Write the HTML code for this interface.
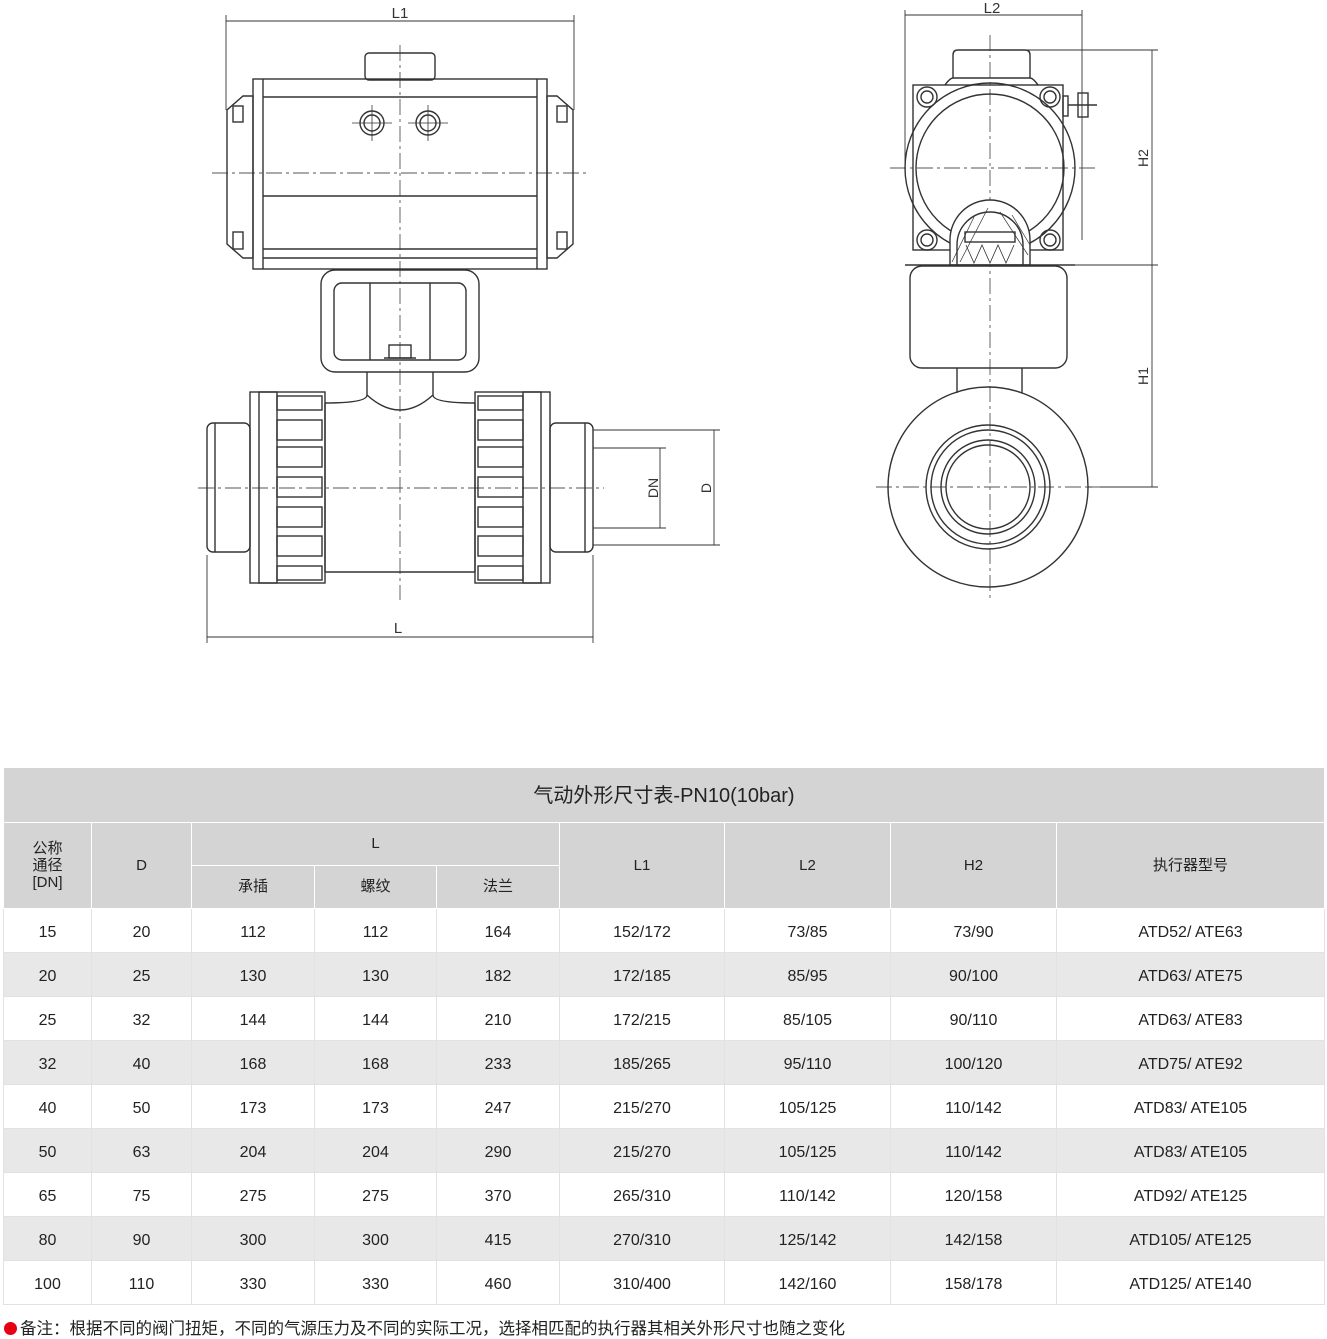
<!DOCTYPE html>
<html><head><meta charset="utf-8"><style>
body{margin:0;width:1327px;height:1334px;background:#fff;position:relative;overflow:hidden;font-family:"Liberation Sans","Noto Sans CJK SC",sans-serif;color:#222}
svg{position:absolute;left:0;top:0}
table{position:absolute;left:3px;top:767px;width:1322px;border-collapse:collapse;table-layout:fixed}
td{border:1px solid #fff;text-align:center;font-size:15px;padding:0;color:#222;line-height:18px}
tr.h td{background:#d4d4d4}
tr.d td{height:39px;padding-top:4px;font-size:16px}
tr.d:nth-child(odd) td{background:#e8e8e8}
tr.d td{border-color:#e2e2e2}
.note{position:absolute;left:4px;top:1315px;font-size:16.5px;font-family:"Liberation Sans","Noto Sans CJK SC",sans-serif}
.note b{display:inline-block;width:13px;height:13px;border-radius:50%;background:#e60012;margin-right:3px;vertical-align:-1px}
</style></head><body>
<svg width="1327" height="760" viewBox="0 0 1327 760" fill="none" stroke="#333" stroke-width="1.4" font-family="Liberation Sans">
<g stroke-width="0.9">
<line x1="226" y1="21" x2="574" y2="21"/><line x1="226" y1="15" x2="226" y2="110"/><line x1="574" y1="15" x2="574" y2="110"/>
<text x="400" y="18" font-size="15" fill="#333" stroke="none" text-anchor="middle">L1</text>
<line x1="207" y1="637" x2="593" y2="637"/><line x1="207" y1="555" x2="207" y2="643"/><line x1="593" y1="555" x2="593" y2="643"/>
<text x="398" y="633" font-size="15" fill="#333" stroke="none" text-anchor="middle">L</text>
<line x1="593" y1="448" x2="666" y2="448"/><line x1="593" y1="528" x2="666" y2="528"/><line x1="660" y1="448" x2="660" y2="528"/>
<line x1="593" y1="430" x2="720" y2="430"/><line x1="593" y1="545" x2="720" y2="545"/><line x1="714" y1="430" x2="714" y2="545"/>
<text transform="translate(658,488) rotate(-90)" font-size="14" fill="#333" stroke="none" text-anchor="middle">DN</text>
<text transform="translate(711,488) rotate(-90)" font-size="14" fill="#333" stroke="none" text-anchor="middle">D</text>
<line x1="905" y1="15" x2="1082" y2="15"/><line x1="905" y1="10" x2="905" y2="168"/><line x1="1082" y1="10" x2="1082" y2="240"/>
<text x="992" y="13" font-size="15" fill="#333" stroke="none" text-anchor="middle">L2</text>
<line x1="1152" y1="50" x2="1152" y2="487"/>
<line x1="1020" y1="50" x2="1158" y2="50"/><line x1="1030" y1="265" x2="1158" y2="265"/><line x1="1088" y1="487" x2="1158" y2="487"/>
<text transform="translate(1148,158) rotate(-90)" font-size="14" fill="#333" stroke="none" text-anchor="middle">H2</text>
<text transform="translate(1148,376) rotate(-90)" font-size="14" fill="#333" stroke="none" text-anchor="middle">H1</text>
</g>
<g stroke="#555" stroke-width="0.9" stroke-dasharray="16,4,3,4">
<line x1="212" y1="173" x2="588" y2="173"/><line x1="400" y1="45" x2="400" y2="600"/><line x1="198" y1="488" x2="604" y2="488"/>
<line x1="890" y1="168" x2="1095" y2="168"/><line x1="990" y1="35" x2="990" y2="600"/><line x1="876" y1="487" x2="1100" y2="487"/>
</g>
<rect x="365" y="53" width="70" height="27" rx="4"/>
<rect x="253" y="79" width="294" height="190"/>
<line x1="263" y1="79" x2="263" y2="269"/><line x1="537" y1="79" x2="537" y2="269"/>
<line x1="263" y1="97" x2="537" y2="97"/><line x1="263" y1="196" x2="537" y2="196"/><line x1="263" y1="249" x2="537" y2="249"/><line x1="263" y1="258" x2="537" y2="258"/>
<polygon points="253,96 243,96 227,110 227,244 243,258 253,258"/>
<polygon points="547,96 557,96 573,110 573,244 557,258 547,258"/>
<rect x="233" y="106" width="10" height="16"/><rect x="233" y="232" width="10" height="17"/>
<rect x="557" y="106" width="10" height="16"/><rect x="557" y="232" width="10" height="17"/>
<circle cx="372" cy="123" r="12"/><circle cx="372" cy="123" r="8"/><circle cx="428" cy="123" r="12"/><circle cx="428" cy="123" r="8"/>
<line x1="352" y1="123" x2="392" y2="123" stroke-width="0.8"/><line x1="372" y1="105" x2="372" y2="141" stroke-width="0.8"/>
<line x1="408" y1="123" x2="448" y2="123" stroke-width="0.8"/><line x1="428" y1="105" x2="428" y2="141" stroke-width="0.8"/>
<rect x="321" y="270" width="158" height="102" rx="14"/>
<rect x="334" y="283" width="132" height="77" rx="8"/>
<line x1="370" y1="283" x2="370" y2="360"/><line x1="430" y1="283" x2="430" y2="360"/>
<rect x="389" y="345" width="22" height="13"/><line x1="384" y1="358" x2="416" y2="358"/>
<path d="M367,372 V395 Q367,403 325,403 M433,372 V395 Q433,403 475,403"/>
<path d="M367,395 Q400,425 433,395"/>
<line x1="325" y1="403" x2="325" y2="572"/><line x1="475" y1="403" x2="475" y2="572"/>
<line x1="325" y1="572" x2="475" y2="572"/>
<rect x="250" y="392" width="75" height="191"/><rect x="259" y="392" width="18" height="191"/>
<rect x="475" y="392" width="75" height="191"/><rect x="523" y="392" width="18" height="191"/>
<g>
<rect x="277" y="396" width="45" height="14"/><rect x="277" y="420" width="45" height="20"/><rect x="277" y="447" width="45" height="20"/><rect x="277" y="477" width="45" height="20"/><rect x="277" y="507" width="45" height="20"/><rect x="277" y="536" width="45" height="20"/><rect x="277" y="566" width="45" height="14"/>
<rect x="478" y="396" width="45" height="14"/><rect x="478" y="420" width="45" height="20"/><rect x="478" y="447" width="45" height="20"/><rect x="478" y="477" width="45" height="20"/><rect x="478" y="507" width="45" height="20"/><rect x="478" y="536" width="45" height="20"/><rect x="478" y="566" width="45" height="14"/>
</g>
<rect x="207" y="423" width="43" height="129" rx="6"/><line x1="215" y1="423" x2="215" y2="552"/>
<rect x="550" y="423" width="43" height="129" rx="6"/><line x1="585" y1="423" x2="585" y2="552"/>
<path d="M953,78 V55 Q953,50 958,50 H1025 Q1030,50 1030,55 V78"/>
<path d="M945,85 Q950,78 953,78 H1030 Q1033,78 1038,85"/>
<rect x="913" y="85" width="150" height="165"/>
<circle cx="927" cy="97" r="10"/><circle cx="927" cy="97" r="6"/><circle cx="1050" cy="97" r="10"/><circle cx="1050" cy="97" r="6"/>
<circle cx="927" cy="240" r="10"/><circle cx="927" cy="240" r="6"/><circle cx="1050" cy="240" r="10"/><circle cx="1050" cy="240" r="6"/>
<circle cx="990" cy="168" r="85"/><circle cx="990" cy="168" r="74"/>
<rect x="1063" y="96" width="5" height="20"/><rect x="1078" y="93" width="10" height="24"/><line x1="1068" y1="105" x2="1097" y2="105"/>
<path d="M950,265 V240 A40,40 0 0 1 1030,240 V265 Z" fill="#fff"/>
<path d="M957,265 V245 A33,33 0 0 1 1023,245 V265" />
<g stroke-width="0.7"><line x1="952" y1="262" x2="975" y2="215"/><line x1="960" y1="262" x2="988" y2="208"/><line x1="1000" y1="212" x2="1028" y2="255"/><line x1="1012" y1="215" x2="1030" y2="245"/></g>
<rect x="965" y="232" width="50" height="10"/>
<path d="M966,245 l8,18 l8,-18 l8,18 l8,-18 l8,18 l8,-18" stroke-width="0.8"/>
<line x1="905" y1="265" x2="1075" y2="265"/>
<rect x="910" y="266" width="157" height="102" rx="12"/>
<line x1="957" y1="368" x2="957" y2="393"/><line x1="1022" y1="368" x2="1022" y2="393"/>
<circle cx="988" cy="487" r="100"/><circle cx="988" cy="487" r="62"/><circle cx="988" cy="487" r="57"/><circle cx="988" cy="487" r="47"/><circle cx="988" cy="487" r="42"/>
</svg>
<table>
<colgroup><col style="width:88px"><col style="width:100px"><col style="width:123px"><col style="width:122px"><col style="width:123px"><col style="width:165px"><col style="width:166px"><col style="width:166px"><col></colgroup>
<tr class="h"><td colspan="9" style="height:52px;font-size:20px;font-weight:normal;border-color:#fff;padding-top:2px">气动外形尺寸表-PN10(10bar)</td></tr>
<tr class="h"><td rowspan="2" style="line-height:17px">公称<br>通径<br>[DN]</td><td rowspan="2">D</td><td colspan="3" style="height:42px">L</td><td rowspan="2">L1</td><td rowspan="2">L2</td><td rowspan="2">H2</td><td rowspan="2">执行器型号</td></tr>
<tr class="h"><td style="height:42px">承插</td><td>螺纹</td><td>法兰</td></tr>
<tr class="d"><td>15</td><td>20</td><td>112</td><td>112</td><td>164</td><td>152/172</td><td>73/85</td><td>73/90</td><td>ATD52/ ATE63</td></tr>
<tr class="d"><td>20</td><td>25</td><td>130</td><td>130</td><td>182</td><td>172/185</td><td>85/95</td><td>90/100</td><td>ATD63/ ATE75</td></tr>
<tr class="d"><td>25</td><td>32</td><td>144</td><td>144</td><td>210</td><td>172/215</td><td>85/105</td><td>90/110</td><td>ATD63/ ATE83</td></tr>
<tr class="d"><td>32</td><td>40</td><td>168</td><td>168</td><td>233</td><td>185/265</td><td>95/110</td><td>100/120</td><td>ATD75/ ATE92</td></tr>
<tr class="d"><td>40</td><td>50</td><td>173</td><td>173</td><td>247</td><td>215/270</td><td>105/125</td><td>110/142</td><td>ATD83/ ATE105</td></tr>
<tr class="d"><td>50</td><td>63</td><td>204</td><td>204</td><td>290</td><td>215/270</td><td>105/125</td><td>110/142</td><td>ATD83/ ATE105</td></tr>
<tr class="d"><td>65</td><td>75</td><td>275</td><td>275</td><td>370</td><td>265/310</td><td>110/142</td><td>120/158</td><td>ATD92/ ATE125</td></tr>
<tr class="d"><td>80</td><td>90</td><td>300</td><td>300</td><td>415</td><td>270/310</td><td>125/142</td><td>142/158</td><td>ATD105/ ATE125</td></tr>
<tr class="d"><td>100</td><td>110</td><td>330</td><td>330</td><td>460</td><td>310/400</td><td>142/160</td><td>158/178</td><td>ATD125/ ATE140</td></tr>
</table>
<div class="note"><b></b>备注：根据不同的阀门扭矩，不同的气源压力及不同的实际工况，选择相匹配的执行器其相关外形尺寸也随之变化</div>
</body></html>
